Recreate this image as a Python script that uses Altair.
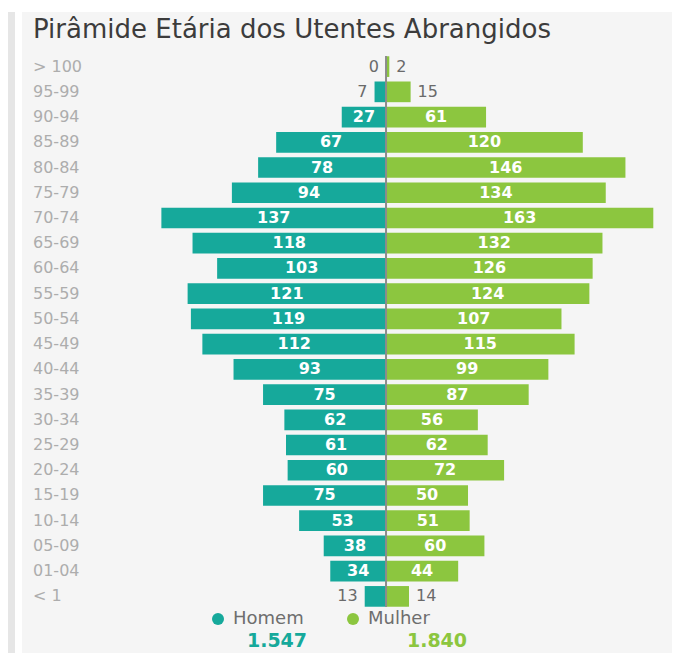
import altair as alt
import pandas as pd

ages = ["> 100", "95-99", "90-94", "85-89", "80-84", "75-79", "70-74", "65-69",
        "60-64", "55-59", "50-54", "45-49", "40-44", "35-39", "30-34", "25-29",
        "20-24", "15-19", "10-14", "05-09", "01-04", "< 1"]
homem = [0, 7, 27, 67, 78, 94, 137, 118, 103, 121, 119, 112, 93, 75, 62, 61,
         60, 75, 53, 38, 34, 13]
mulher = [2, 15, 61, 120, 146, 134, 163, 132, 126, 124, 107, 115, 99, 87, 56, 62,
          72, 50, 51, 60, 44, 14]
sexes = ["Homem", "Mulher"]
colors = ["#16a99b", "#8cc63f"]
title_text = "Pirâmide Etária dos Utentes Abrangidos"

rows = []
for a, h, m in zip(ages, homem, mulher):
    rows.append({"age": a, "sex": "Homem", "value": h, "signed": -h, "mid": -h / 2})
    rows.append({"age": a, "sex": "Mulher", "value": m, "signed": m, "mid": m / 2})
df = pd.DataFrame(rows)


def fmt(n):
    return f"{n:,}".replace(",", ".")


tot_h = fmt(sum(homem))
tot_m = fmt(sum(mulher))

W, H = 650, 555
FONT = "DejaVu Sans"

x_scale = alt.Scale(domain=[-222, 174.4], nice=False, zero=False)
y_enc = alt.Y("age:N", sort=ages, axis=None,
              scale=alt.Scale(paddingInner=0.18, paddingOuter=0.09))

one = pd.DataFrame({"z": [0]})

panel = alt.Chart(one).mark_rect(color="#f5f5f5").encode(
    x=alt.value(0), x2=alt.value(W + 20), y=alt.value(-42), y2=alt.value(H + 60))
strip = alt.Chart(one).mark_rect(color="#e6e6e6").encode(
    x=alt.value(-14), x2=alt.value(-7), y=alt.value(-42), y2=alt.value(H + 60))

title = alt.Chart(pd.DataFrame({"t": [title_text]})).mark_text(
    align="left", baseline="middle", font=FONT, fontSize=26, color="#3c3c3c"
).encode(x=alt.value(11), y=alt.value(-24), text="t:N")

bars = alt.Chart(df).mark_bar().encode(
    y=y_enc,
    x=alt.X("signed:Q", scale=x_scale, axis=None),
    color=alt.Color("sex:N", scale=alt.Scale(domain=sexes, range=colors),
                    legend=alt.Legend(orient="none", legendX=187, legendY=556,
                                      direction="horizontal", title=None,
                                      symbolType="circle", symbolSize=144,
                                      symbolStrokeWidth=0, labelFont=FONT,
                                      labelFontSize=18, labelColor="#6e6e6e",
                                      labelOffset=6, columnPadding=40, padding=0)),
)

center = alt.Chart(one).mark_rule(color="#8c8c8c", strokeWidth=2).encode(
    x=alt.X("z:Q", scale=x_scale, axis=None), y=alt.value(2), y2=alt.value(H - 2))

ylabels = alt.Chart(pd.DataFrame({"age": ages})).mark_text(
    align="left", baseline="middle", font=FONT, fontSize=16, color="#adadad"
).encode(y=y_enc, x=alt.value(11), text="age:N")

inside = alt.Chart(df).transform_filter("datum.value >= 20").mark_text(
    align="center", baseline="middle", font=FONT, fontSize=16, fontWeight="bold",
    color="white"
).encode(y=y_enc, x=alt.X("mid:Q", scale=x_scale, axis=None), text="value:Q")

out_h = alt.Chart(df).transform_filter(
    "datum.value < 20 && datum.sex == 'Homem'").mark_text(
    align="right", baseline="middle", font=FONT, fontSize=16, color="#6a6a6a", dx=-7
).encode(y=y_enc, x=alt.X("signed:Q", scale=x_scale, axis=None), text="value:Q")

out_m = alt.Chart(df).transform_filter(
    "datum.value < 20 && datum.sex == 'Mulher'").mark_text(
    align="left", baseline="middle", font=FONT, fontSize=16, color="#6a6a6a", dx=7
).encode(y=y_enc, x=alt.X("signed:Q", scale=x_scale, axis=None), text="value:Q")

tot1 = alt.Chart(pd.DataFrame({"t": [tot_h]})).mark_text(
    align="center", baseline="alphabetic", font=FONT, fontSize=19, fontWeight="bold",
    color=colors[0]).encode(x=alt.value(255), y=alt.value(593), text="t:N")
tot2 = alt.Chart(pd.DataFrame({"t": [tot_m]})).mark_text(
    align="center", baseline="alphabetic", font=FONT, fontSize=19, fontWeight="bold",
    color=colors[1]).encode(x=alt.value(415), y=alt.value(593), text="t:N")

chart = alt.layer(
    panel, strip, title, bars, center, ylabels, inside, out_h, out_m, tot1, tot2
).properties(
    width=W, height=H,
    padding={"left": 14, "top": 46, "right": 0, "bottom": 44},
    autosize=alt.AutoSizeParams(type="none"),
    background="white",
).configure_view(stroke=None)

chart.save("out.html", embed_options={"renderer": "svg", "actions": False})
